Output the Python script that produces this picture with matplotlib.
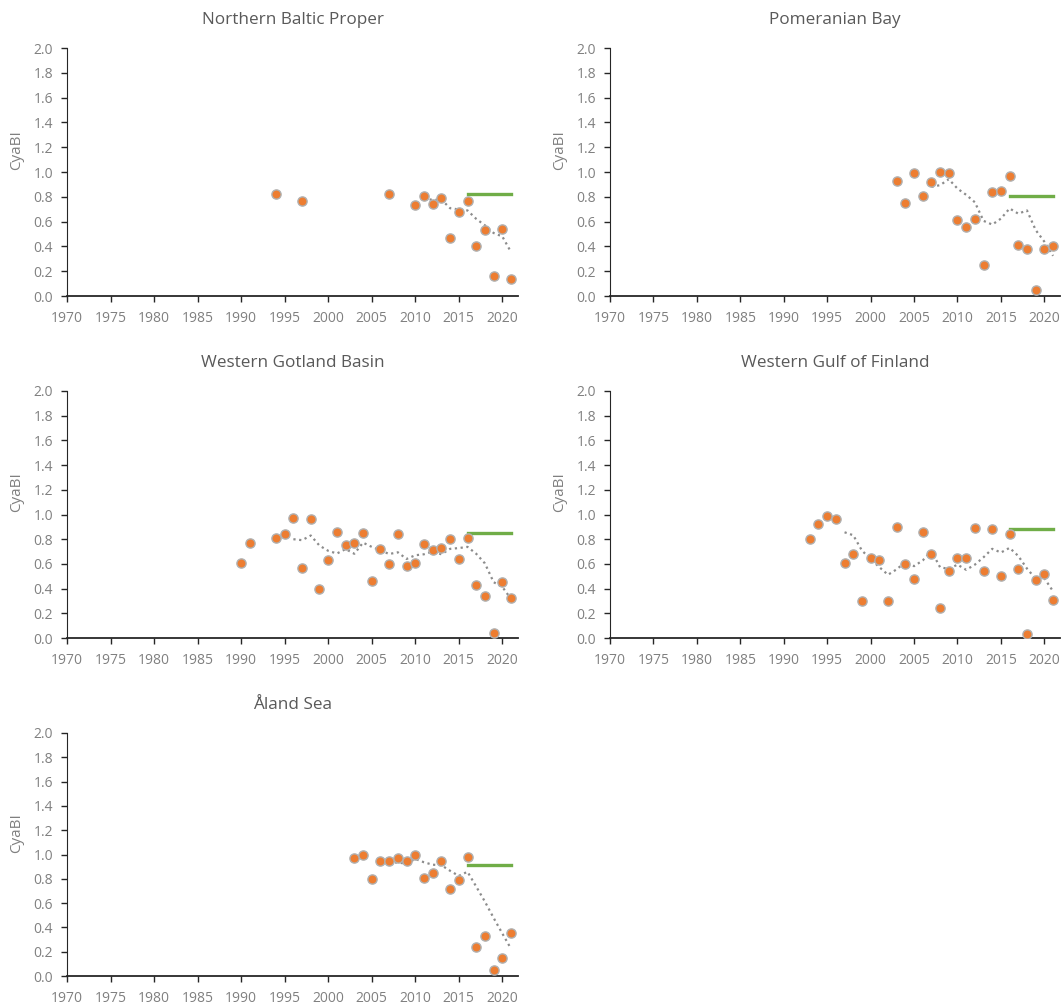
import numpy as np
import pandas as pd
import matplotlib
matplotlib.use('Agg')
import matplotlib.pyplot as plt

plt.rcParams['font.family'] = ['Open Sans', 'DejaVu Sans']

# --- data ---
nbp_years = [1994, 1997, 2007, 2010, 2011, 2012, 2013, 2014, 2015, 2016, 2017, 2018, 2019, 2020, 2021]
nbp_vals = [0.82, 0.77, 0.82, 0.73, 0.81, 0.74, 0.79, 0.47, 0.68, 0.77, 0.40, 0.53, 0.16, 0.54, 0.14]
nbp_target = 0.82

pom_years = list(range(2003, 2022))
pom_vals = [0.93, 0.75, 0.99, 0.81, 0.92, 1.00, 0.99, 0.61, 0.56, 0.62, 0.25, 0.84, 0.85, 0.97,
            0.41, 0.38, 0.05, 0.38, 0.40]
pom_target = 0.81

wgb_years = [1990, 1991, 1994, 1995, 1996, 1997, 1998, 1999, 2000, 2001, 2002, 2003, 2004, 2005,
             2006, 2007, 2008, 2009, 2010, 2011, 2012, 2013, 2014, 2015, 2016, 2017, 2018, 2019,
             2020, 2021]
wgb_vals = [0.61, 0.77, 0.81, 0.84, 0.97, 0.57, 0.96, 0.40, 0.63, 0.86, 0.75, 0.77, 0.85, 0.46,
            0.72, 0.60, 0.84, 0.58, 0.61, 0.76, 0.71, 0.73, 0.80, 0.64, 0.81, 0.43, 0.34, 0.04,
            0.45, 0.32]
wgb_target = 0.85

wgf_years = list(range(1993, 2022))
wgf_vals = [0.80, 0.92, 0.99, 0.96, 0.61, 0.68, 0.30, 0.65, 0.63, 0.30, 0.90, 0.60, 0.48, 0.86,
            0.68, 0.24, 0.54, 0.65, 0.65, 0.89, 0.54, 0.88, 0.50, 0.84, 0.56, 0.03, 0.47, 0.52,
            0.31]
wgf_target = 0.88

ala_years = list(range(2003, 2022))
ala_vals = [0.97, 1.00, 0.80, 0.95, 0.95, 0.97, 0.95, 1.00, 0.81, 0.85, 0.95, 0.72, 0.79, 0.98,
            0.24, 0.33, 0.05, 0.15, 0.35]
ala_target = 0.91

titles = ['Northern Baltic Proper', 'Pomeranian Bay', 'Western Gotland Basin',
          'Western Gulf of Finland', 'Åland Sea']
series = [(nbp_years, nbp_vals, nbp_target), (pom_years, pom_vals, pom_target),
          (wgb_years, wgb_vals, wgb_target), (wgf_years, wgf_vals, wgf_target),
          (ala_years, ala_vals, ala_target)]
target_span = (2016, 2021)

ORANGE = '#ED7D31'
GREEN = '#70AD47'
GREY = '#808080'

W, H = 1063, 1005
fig = plt.figure(figsize=(W / 100, H / 100), dpi=100)

# axes boxes in pixels: (left, right) and (top, bottom)
col_x = [(67, 518), (610, 1060)]
row_y = [(48, 296), (391, 638), (733, 976)]

for i, (title, (yrs, vals, target)) in enumerate(zip(titles, series)):
    x0, x1 = col_x[i % 2]
    y0, y1 = row_y[i // 2]
    ax = fig.add_axes([x0 / W, 1 - y1 / H, (x1 - x0) / W, (y1 - y0) / H])

    df = pd.DataFrame({'year': yrs, 'val': vals})
    # 5-point moving average trendline, as in the source chart
    trend = df['val'].rolling(5).mean()

    ax.plot(df['year'], trend, color='#8C8C8C', lw=1.6, ls=(0, (1, 1.6)), zorder=2)
    ax.plot(target_span, [target, target], color=GREEN, lw=2.4, zorder=3)
    ax.scatter(df['year'], df['val'], s=44, color=ORANGE, edgecolors='#B0B0B0',
               linewidths=1.0, zorder=4)

    ax.set_xlim(1970, 2021.8)
    ax.set_ylim(0, 2.0)
    ax.set_xticks(range(1970, 2021, 5))
    ax.set_yticks(np.arange(0, 2.01, 0.2))
    ax.yaxis.set_major_formatter(plt.FuncFormatter(lambda v, _: f'{v:.1f}'))
    ax.tick_params(labelsize=10, colors='#262626', labelcolor=GREY, length=4, width=1)
    ax.tick_params(axis='x', pad=6.5)
    ax.tick_params(axis='y', pad=6)
    for s in ['top', 'right']:
        ax.spines[s].set_visible(False)
    ax.spines['left'].set_color('#262626')
    ax.spines['bottom'].set_color('#262626')
    ax.spines['bottom'].set_linewidth(1.3)
    ax.set_ylabel('CyaBI', fontsize=11, color=GREY)
    ax.yaxis.set_label_coords(-0.095, 0.59)
    ax.set_title(title, fontsize=12.3, color='#595959', pad=17)

fig.savefig('out.png', dpi=100)
